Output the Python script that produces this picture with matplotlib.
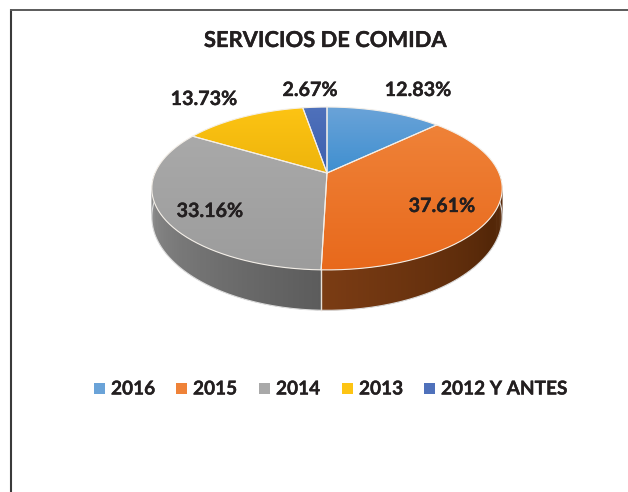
import numpy as np
import matplotlib
matplotlib.use('Agg')
import matplotlib.pyplot as plt
import matplotlib.patheffects as pe
from matplotlib.patches import Polygon, Rectangle
from matplotlib.colors import to_rgb

title = 'SERVICIOS DE COMIDA'
years = ['2016', '2015', '2014', '2013', '2012 Y ANTES']
shares = [12.83, 37.61, 33.16, 13.73, 2.67]
top_colors = ['#6aa3d8', '#ef8238', '#a9a9a9', '#fdc413', '#4f71bb']
low_colors = ['#3f8fd0', '#e8691c', '#9c9c9c', '#eeb40c', '#3c5fae']

plt.rcParams['font.family'] = ['Lato', 'DejaVu Sans']
ink = '#231f20'
heavier = [pe.withStroke(linewidth=0.25, foreground=ink)]

# pie geometry in pixels
cx, cy = 327, 173
k = 0.19
sx, sy = 172, 78.5
depth = 26.5


def project(theta, r=1.0):
    # theta clockwise from the back of the disc, simple perspective
    x = r * np.sin(theta)
    y = r * np.cos(theta)
    w = 1 + k * y
    return cx + sx * x / w, cy - sy * y / w


def rim_drop(theta):
    return depth / (1 + k * np.cos(theta)) ** 2


def wall_color(i, u):
    if i == 1:
        c0, c1 = np.array(to_rgb('#7b3c14')), np.array(to_rgb('#542708'))
        col = c0 + min(u * 1.5, 1) * (c1 - c0)
        if u > 0.7:
            col = col + (u - 0.7) * 0.15
        return col
    c0, c1 = np.array(to_rgb('#5c5c5c')), np.array(to_rgb('#939393'))
    return c0 + u * (c1 - c0)


fig = plt.figure(figsize=(6.28, 4.92), dpi=100)
ax = fig.add_axes([0, 0, 1, 1])
ax.set_xlim(0, 628)
ax.set_ylim(492, 0)
ax.axis('off')

# page frame
ax.plot([10.5, 10.5], [492, 9], color='#3a3a3a', lw=1.5, solid_capstyle='butt')
ax.plot([10, 628], [9.5, 9.5], color='#5a5a5a', lw=1.4, solid_capstyle='butt')

edges = np.radians(np.cumsum([0] + shares) * 3.6)

# side wall, only the front half shows; quads overlap so no seams show
for i, (a, b) in enumerate(zip(edges[:-1], edges[1:])):
    lo, hi = max(a, np.pi / 2), min(b, np.pi * 1.5)
    if lo >= hi or i not in (1, 2):
        continue
    t = np.linspace(lo, hi, 120)
    for j in range(len(t) - 1):
        t0 = t[j]
        t1 = t[min(j + 2, len(t) - 1)]
        xa, ya = project(t0)
        xb, yb = project(t1)
        u = abs((t[j] + t[j + 1]) / 2 - edges[2]) / (np.pi / 2)
        ax.add_patch(Polygon([[xa, ya], [xb, yb], [xb, yb + rim_drop(t1)], [xa, ya + rim_drop(t0)]],
                             closed=True, fc=wall_color(i, u), ec='none', zorder=2))

# rim highlights
t = np.linspace(np.pi / 2, np.pi * 1.5, 200)
xr, yr = project(t)
ax.plot(xr, yr + rim_drop(t), color='#dddddd', lw=0.8, zorder=3)
xa, ya = project(edges[2])
ax.plot([xa, xa], [ya, ya + rim_drop(edges[2])], color='#e8e0d8', lw=1, zorder=3)

# top face with a soft vertical gradient in each slice
ramp = np.linspace(0, 1, 200)[:, None]
for a, b, c0, c1 in zip(edges[:-1], edges[1:], top_colors, low_colors):
    t = np.linspace(a, b, 150)
    xs, ys = project(t)
    pts = np.column_stack([np.r_[cx, xs], np.r_[cy, ys]])
    patch = Polygon(pts, closed=True, fc='none', ec='none', transform=ax.transData, zorder=4)
    ax.add_patch(patch)
    c0, c1 = np.array(to_rgb(c0)), np.array(to_rgb(c1))
    img = (c0 + ramp[:, :, None] * (c1 - c0))
    im = ax.imshow(img, extent=[pts[:, 0].min(), pts[:, 0].max(), pts[:, 1].max(), pts[:, 1].min()],
                   aspect='auto', zorder=4, interpolation='bilinear')
    im.set_clip_path(patch)
    ax.plot(pts[:, 0].tolist() + [cx], pts[:, 1].tolist() + [cy], color='#f4efe8', lw=0.8, zorder=5)
ax.set_xlim(0, 628)
ax.set_ylim(492, 0)

# labels
label_pos = [(418, 90), (442, 206), (210, 211), (204, 99), (310, 90)]
for (lx, ly), v in zip(label_pos, shares):
    ax.text(lx, ly, '%.2f%%' % v, ha='center', va='center', fontsize=14.2, fontweight='bold',
            color=ink, zorder=6, path_effects=heavier)

ax.text(325.5, 40.5, title, ha='center', va='center', fontsize=15.8, fontweight='bold', color=ink,
        path_effects=heavier)

# legend
swatch_x = [94, 176, 259, 342, 424]
text_x = [111, 193, 276, 359, 441]
for sxx, tx, name, col in zip(swatch_x, text_x, years, top_colors):
    ax.add_patch(Rectangle((sxx, 383), 11, 11, fc=col, ec='none'))
    ax.text(tx, 389, name, ha='left', va='center', fontsize=13.7, fontweight='bold', color=ink,
            path_effects=heavier)

fig.savefig('out.png', dpi=100)
